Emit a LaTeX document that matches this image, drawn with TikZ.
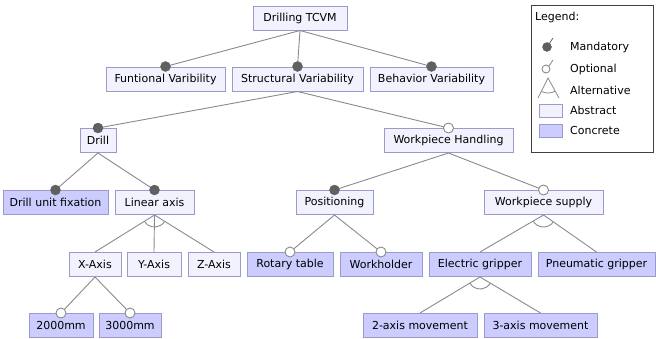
\documentclass[tikz,border=0pt]{standalone}
\usepackage{fontspec}
\setmainfont{DejaVu Sans}
\usetikzlibrary{calc}
\definecolor{fborder}{HTML}{9A9ACC}
\definecolor{absfill}{HTML}{F2F2FF}
\definecolor{confill}{HTML}{CCCCFF}
\definecolor{edgecol}{HTML}{8A8A8A}
\definecolor{dotcol}{HTML}{606060}
\begin{document}
\begin{tikzpicture}[x=1pt,y=1pt,
  feat/.style={draw=fborder, line width=1pt, minimum height=24pt, inner sep=0pt, font=\fontsize{11}{13}\selectfont},
  absf/.style={feat, fill=absfill},
  conf/.style={feat, fill=confill},
  edge/.style={draw=edgecol, line width=0.9pt},
  mand/.style={circle, fill=dotcol, draw=dotcol, inner sep=0pt, minimum size=10pt},
  opt/.style={circle, fill=white, draw=edgecol, line width=0.9pt, inner sep=0pt, minimum size=10pt},
  legtxt/.style={anchor=west, inner sep=0pt, font=\fontsize{11}{13}\selectfont},
]
\useasboundingbox (0,0) rectangle (656,-338);

% features
\node[absf, minimum width=94pt]  (root) at (300,-18) {Drilling TCVM};
\node[absf, minimum width=119pt] (fv)   at (165.5,-79) {Funtional Varibility};
\node[absf, minimum width=131pt] (sv)   at (297.5,-79) {Structural Variability};
\node[absf, minimum width=123pt] (bv)   at (431.5,-79) {Behavior Variability};
\node[absf, minimum width=36pt]  (dr)   at (98,-140.5) {Drill};
\node[absf, minimum width=129pt] (wh)   at (448.5,-140.5) {Workpiece Handling};
\node[conf, minimum width=105pt] (duf)  at (55.5,-202.5) {Drill unit fixation};
\node[absf, minimum width=79pt]  (la)   at (154.5,-202.5) {Linear axis};
\node[absf, minimum width=77pt]  (pos)  at (334.5,-202.5) {Positioning};
\node[absf, minimum width=119pt] (ws)   at (543.5,-202.5) {Workpiece supply};
\node[absf, minimum width=52pt]  (xa)   at (95,-264.5) {X-Axis};
\node[absf, minimum width=54pt]  (ya)   at (154,-264.5) {Y-Axis};
\node[absf, minimum width=52pt]  (za)   at (214,-264.5) {Z-Axis};
\node[conf, minimum width=86pt]  (rt)   at (290,-264.5) {Rotary table};
\node[conf, minimum width=82pt]  (wo)   at (381,-264.5) {Workholder};
\node[conf, minimum width=102pt] (eg)   at (480,-264.5) {Electric gripper};
\node[conf, minimum width=117pt] (pg)   at (596.5,-264.5) {Pneumatic gripper};
\node[conf, minimum width=64pt]  (m2)   at (61,-325.5) {2000mm};
\node[conf, minimum width=62pt]  (m3)   at (130,-325.5) {3000mm};
\node[conf, minimum width=114pt] (a2)   at (420,-325.5) {2-axis movement};
\node[conf, minimum width=113pt] (a3)   at (540.5,-325.5) {3-axis movement};

% connectors
\foreach \pa/\ch in {root/fv, root/sv, root/bv, sv/dr, sv/wh, dr/duf, dr/la, wh/pos, wh/ws,
  la/xa, la/ya, la/za, pos/rt, pos/wo, ws/eg, ws/pg, xa/m2, xa/m3, eg/a2, eg/a3}
  \draw[edge] (\pa.south) -- (\ch.north);

% alternative arcs
\foreach \pa/\lc/\rc in {la/xa/za, ws/eg/pg, eg/a2/a3}
  \draw[edge] let \p1=($(\lc.north)-(\pa.south)$), \p2=($(\rc.north)-(\pa.south)$),
    \n1={atan2(\y1,\x1)}, \n2={atan2(\y2,\x2)} in
    ($(\pa.south)+(\n1:12pt)$) arc[start angle=\n1, end angle=\n2, radius=12pt];

% mandatory / optional markers
\foreach \ch in {fv, sv, bv, dr, duf, la, pos}
  \node[mand] at (\ch.north) {};
\foreach \ch in {wh, ws, rt, wo, m2, m3}
  \node[opt] at (\ch.north) {};

% legend
\draw[line width=1pt, draw=black!75] (531,-5) rectangle (653,-152);
\node[legtxt] (lg) at (535,-17) {Legend:};
\node[mand, minimum size=9pt] (lmd) at (547,-47) {};
\coordinate (lmde) at (553,-38);
\draw[draw=dotcol, line width=0.8pt] (lmd.center) -- (lmde);
\node[legtxt] (lmt) at (570,-47) {Mandatory};
\node[opt, minimum size=8pt] (lod) at (546,-69) {};
\coordinate (lode) at (553,-60);
\draw[draw=edgecol, line width=0.8pt] (lod.north east) -- (lode);
\node[legtxt] (lot) at (570,-69) {Optional};
\coordinate (lapex) at (548,-78);
\coordinate (lal) at (538,-98);
\coordinate (lar) at (559,-98);
\draw[draw=edgecol, line width=0.8pt] (lal) -- (lapex) -- (lar);
\draw[draw=edgecol, line width=0.8pt] let \p1=($(lal)-(lapex)$), \p2=($(lar)-(lapex)$),
    \n1={atan2(\y1,\x1)}, \n2={atan2(\y2,\x2)} in
    ($(lapex)+(\n1:15pt)$) arc[start angle=\n1, end angle=\n2, radius=15pt];
\node[legtxt] (lat) at (570,-90) {Alternative};
\node[draw=fborder, fill=absfill, line width=1pt, minimum width=23pt, minimum height=13pt, inner sep=0pt] (lab) at (550.5,-110.5) {};
\node[legtxt] (labt) at (570,-110) {Abstract};
\node[draw=fborder, fill=confill, line width=1pt, minimum width=23pt, minimum height=13pt, inner sep=0pt] (lcb) at (550.5,-130.5) {};
\node[legtxt] (lct) at (570,-130) {Concrete};
\end{tikzpicture}
\end{document}
